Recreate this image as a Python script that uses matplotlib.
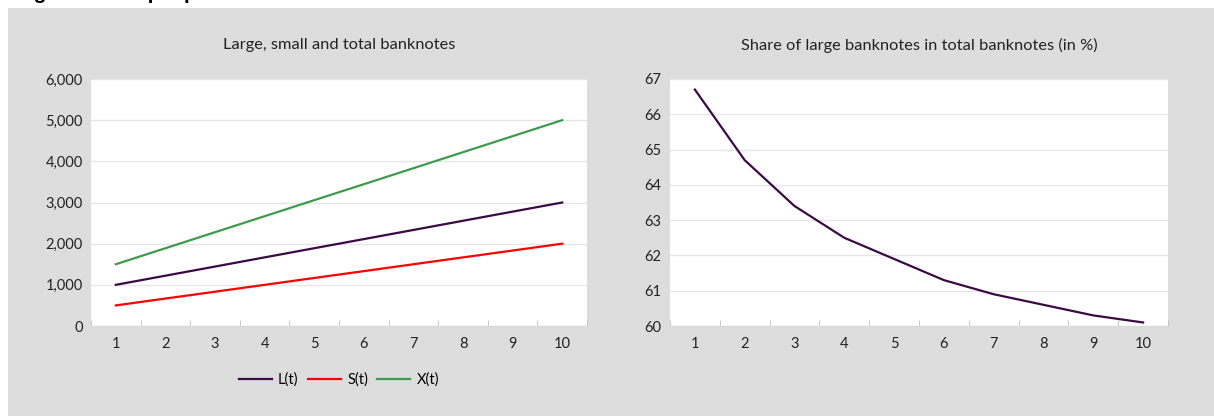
import numpy as np
import matplotlib
matplotlib.use("Agg")
import matplotlib.pyplot as plt
from matplotlib.patches import Rectangle
from matplotlib.ticker import FuncFormatter

plt.rcParams['font.family'] = ['Lato', 'DejaVu Sans']

t = list(range(1, 11))
large = [1000, 1222, 1444, 1667, 1889, 2111, 2333, 2556, 2778, 3000]
small = [500, 667, 833, 1000, 1167, 1333, 1500, 1667, 1833, 2000]
total = [1500, 1889, 2278, 2667, 3056, 3444, 3833, 4222, 4611, 5000]
share = [66.7, 64.7, 63.4, 62.5, 61.9, 61.3, 60.9, 60.6, 60.3, 60.1]

purple = '#3b0a45'
red = '#ff0000'
green = '#3f9a4c'
bg = '#dddddd'
grid_c = '#e6e6e6'

fig = plt.figure(figsize=(12.14, 4.16), dpi=100)
fig.patch.set_facecolor('white')
fig.patches.append(Rectangle((8 / 1214, 0), 1, 1 - 8 / 416, transform=fig.transFigure,
                             facecolor=bg, edgecolor='none', zorder=-10))
# figure title, cut off by the top edge in the original as well
fig.text(0.012, 1 + 1 / 416, 'Figure 1: Simple plots of the model', fontsize=15,
         fontweight='bold', va='baseline', ha='left', family=['Liberation Sans'])

ax1 = fig.add_axes([91 / 1214, 90 / 416, 496 / 1214, 247 / 416])
ax2 = fig.add_axes([670 / 1214, 90 / 416, 498 / 1214, 247 / 416])


def style(ax):
    ax.set_facecolor('white')
    ax.set_xlim(0.5, 10.5)
    ax.set_xticks(t)
    ax.set_xticks(np.arange(0.5, 11, 1), minor=True)
    ax.tick_params(axis='x', which='major', length=0, pad=8, labelsize=10.5, colors='#222222')
    ax.tick_params(axis='x', which='minor', length=4, direction='in', color='#bfbfbf')
    ax.tick_params(axis='y', length=0, pad=6, labelsize=10.5, colors='#222222')
    ax.grid(axis='y', color=grid_c, linewidth=1)
    ax.set_axisbelow(True)
    for s in ['top', 'right', 'left']:
        ax.spines[s].set_visible(False)
    ax.spines['bottom'].set_color('#d9d9d9')


style(ax1)
ax1.plot(t, large, color=purple, lw=1.6, label='L(t)')
ax1.plot(t, small, color=red, lw=1.6, label='S(t)')
ax1.plot(t, total, color=green, lw=1.6, label='X(t)')
ax1.set_ylim(0, 6000)
ax1.set_yticks(range(0, 6001, 1000))
ax1.yaxis.set_major_formatter(FuncFormatter(lambda v, p: f'{int(v):,}'))

style(ax2)
ax2.plot(t, share, color=purple, lw=1.6)
ax2.set_ylim(60, 67)
ax2.set_yticks(range(60, 68))

fig.text(339 / 1214, 1 - 45 / 416, 'Large, small and total banknotes', ha='center', va='center',
         fontsize=11.8, color='#222222')
fig.text(919 / 1214, 1 - 45 / 416, 'Share of large banknotes in total banknotes (in %)',
         ha='center', va='center', fontsize=11.8, color='#222222')

fig.legend(*ax1.get_legend_handles_labels(), loc='center', bbox_to_anchor=(339 / 1214, 1 - 380 / 416),
           ncol=3, frameon=False, fontsize=10.5, handlelength=2.26, columnspacing=0.65,
           handletextpad=0.42)

fig.savefig('out.png', dpi=100)
